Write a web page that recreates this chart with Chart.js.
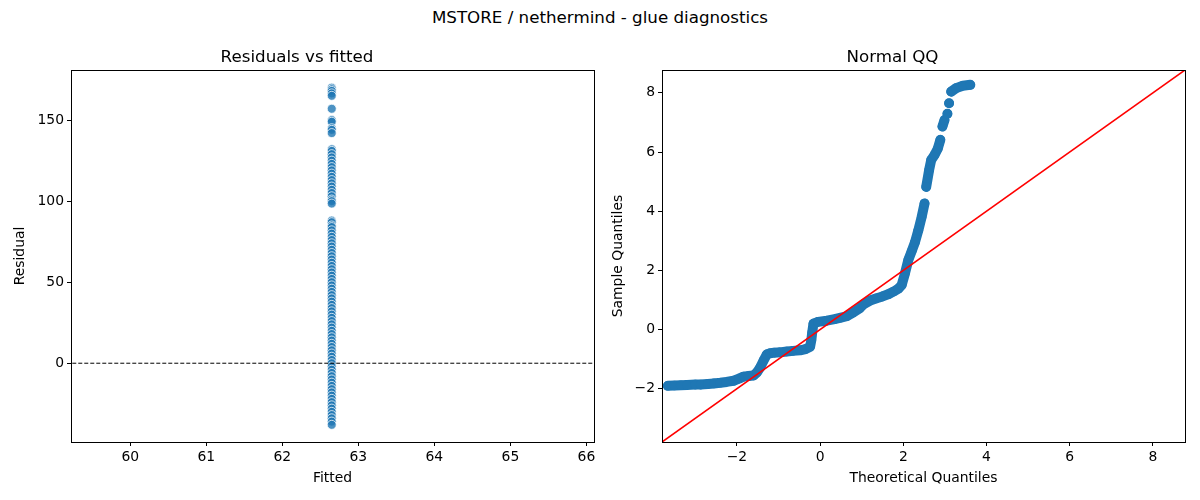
<!DOCTYPE html>
<html>
<head>
<meta charset="utf-8">
<script src="https://cdn.jsdelivr.net/npm/chart.js@4.4.1/dist/chart.umd.min.js"></script>
<style>
  body { margin: 0; background: #fff; font-family: "DejaVu Sans", sans-serif; }
  #wrap { position: relative; width: 1200px; height: 500px; }
  #suptitle { position: absolute; top: 7px; left: 0; width: 1200px; text-align: center; font-size: 16.7px; color: #000; }
  .box { position: absolute; top: 30px; width: 600px; height: 470px; }
</style>
</head>
<body>
<div id="wrap">
  <div id="suptitle">MSTORE / nethermind - glue diagnostics</div>
  <div class="box" style="left:0"><canvas id="residChart"></canvas></div>
  <div class="box" style="left:600px"><canvas id="qqChart"></canvas></div>
</div>
<script>
// Residuals vs fitted: every observation has the same fitted value
const fittedValue = 62.65;
const residuals = [170, 169, 168, 166.5, 165, 157, 150, 149, 145, 144, 142,
  132, 131, 129, 127, 125, 123, 121, 119, 117, 115, 113, 111, 109, 107, 105, 103, 101, 100, 98.5,
  88, 87, 85, 84, 82, 80, 78, 76, 74, 72, 70, 68, 66, 64, 62, 60, 58, 56, 54, 52, 50, 48, 46, 44,
  42, 40, 38, 36, 34, 32, 30, 28, 26, 24, 22, 20, 18, 16, 14, 12, 10, 8, 6, 4, 2, 0,
  -2, -4, -6, -8, -10, -12, -14, -16, -18, -20, -22, -24, -26, -28, -30, -32, -34, -36, -38];
const residXTicks = [60, 61, 62, 63, 64, 65, 66];
const residYTicks = [0, 50, 100, 150];

// Normal QQ (null breaks the band where the sample quantiles jump)
const qqTheoretical = [-3.66, -3.5, -3.35, -3.2, -3.0, -2.87, -2.7, -2.55, -2.4, -2.25, -2.08, -1.95,
  -1.84, -1.72, -1.6, -1.52, -1.44, -1.36, -1.28, -1.2, -1.1, -0.96, -0.8, -0.65, -0.48, -0.35,
  -0.24, -0.21, -0.19, -0.16, -0.05, 0.16, 0.35, 0.5, 0.64, 0.8, 0.95, 1.04, 1.2, 1.36, 1.5, 1.65,
  1.76, 1.88, 1.96, 2.04, 2.12, 2.2, 2.28, 2.36, 2.44, 2.51, null,
  2.55, 2.62, 2.67, 2.75, 2.83, 2.89, null,
  2.94, 2.99, null, 3.06, null, 3.10, null, 3.15, 3.27, 3.43, 3.61];
const qqSample = [-1.90, -1.89, -1.88, -1.87, -1.86, -1.86, -1.84, -1.82, -1.80, -1.77, -1.73, -1.66,
  -1.59, -1.57, -1.55, -1.45, -1.28, -1.05, -0.84, -0.80, -0.78, -0.77, -0.74, -0.72, -0.70, -0.66,
  -0.58, -0.35, -0.1, 0.2, 0.26, 0.30, 0.35, 0.40, 0.45, 0.58, 0.72, 0.85, 0.98, 1.06, 1.12, 1.2,
  1.28, 1.38, 1.50, 1.9, 2.35, 2.65, 2.95, 3.35, 3.8, 4.26, null,
  4.82, 5.39, 5.73, 5.90, 6.12, 6.41, null,
  6.86, 7.08, null, 7.29, null, 7.65, null, 8.04, 8.16, 8.24, 8.27];
const qqLimits = [-3.8, 8.77];
const qqTicks = [-2, 0, 2, 4, 6, 8];

const blue = '#1f77b4';
const font = { family: '"DejaVu Sans", sans-serif', size: 13.9 };

// matplotlib style frame around the plot area
const framePlugin = {
  id: 'frame',
  afterDraw(chart) {
    const a = chart.chartArea;
    const c = chart.ctx;
    c.save();
    c.strokeStyle = '#000';
    c.lineWidth = 1;
    c.strokeRect(Math.round(a.left) + 0.5, Math.round(a.top) + 0.5,
      Math.round(a.right - a.left), Math.round(a.bottom - a.top));
    c.restore();
  }
};

function axis(min, max, ticks, label, size, fmt, titlePad) {
  return {
    type: 'linear', min: min, max: max,
    afterBuildTicks: s => { s.ticks = ticks.map(v => ({ value: v })); },
    afterFit: s => { if (s.isHorizontal()) s.height = size; else s.width = size; },
    border: { display: false },
    grid: { drawOnChartArea: false, drawTicks: true, tickLength: 4, color: '#000', lineWidth: 1 },
    ticks: { color: '#000', font: font, padding: 3, maxRotation: 0, autoSkip: false, callback: fmt },
    title: { display: true, text: label, color: '#000', font: font, padding: titlePad }
  };
}

function titleOpts(text) {
  return {
    display: true, text: text, color: '#000',
    font: { family: '"DejaVu Sans", sans-serif', size: 16.7, weight: 'normal' },
    padding: { top: 18, bottom: 2 }
  };
}

const minus = v => String(v).replace('-', '\u2212');

new Chart(document.getElementById('residChart'), {
  type: 'scatter',
  data: {
    datasets: [{
      // dashed zero line
      data: [{ x: residXTicks[0] - 1, y: 0 }, { x: residXTicks[residXTicks.length - 1] + 1, y: 0 }],
      showLine: true, borderColor: '#000', borderWidth: 1, borderDash: [4, 2], pointRadius: 0
    }, {
      data: residuals.map(r => ({ x: fittedValue, y: r })),
      backgroundColor: 'rgba(31,119,180,0.8)', borderColor: '#fff', borderWidth: 0.75,
      pointRadius: 4.5
    }]
  },
  options: {
    responsive: true, maintainAspectRatio: false, animation: false,
    layout: { padding: { left: 0, right: 6, top: 0, bottom: 0 } },
    plugins: { legend: { display: false }, tooltip: { enabled: false }, title: titleOpts('Residuals vs fitted') },
    scales: {
      x: axis(59.22, 66.1, residXTicks, 'Fitted', 58, v => v, { top: 2, bottom: 13 }),
      y: axis(-48.6, 180.9, residYTicks, 'Residual', 71, v => v, { top: 12, bottom: 4 })
    }
  },
  plugins: [framePlugin]
});

new Chart(document.getElementById('qqChart'), {
  type: 'scatter',
  data: {
    datasets: [{
      // 45 degree reference line
      data: [{ x: qqLimits[0], y: qqLimits[0] }, { x: qqLimits[1], y: qqLimits[1] }],
      showLine: true, borderColor: '#ff0000', borderWidth: 1.6, pointRadius: 0
    }, {
      data: qqTheoretical.map((t, i) => ({ x: t, y: qqSample[i] })),
      showLine: true, spanGaps: false,
      borderColor: blue, borderWidth: 10, borderCapStyle: 'round', borderJoinStyle: 'round',
      backgroundColor: blue, pointBorderWidth: 0, pointRadius: 4.8
    }]
  },
  options: {
    responsive: true, maintainAspectRatio: false, animation: false,
    layout: { padding: { left: 0, right: 15, top: 0, bottom: 0 } },
    plugins: { legend: { display: false }, tooltip: { enabled: false }, title: titleOpts('Normal QQ') },
    scales: {
      x: axis(qqLimits[0], qqLimits[1], qqTicks, 'Theoretical Quantiles', 58, minus, { top: 2, bottom: 13 }),
      y: axis(qqLimits[0], qqLimits[1], qqTicks, 'Sample Quantiles', 62, minus, { top: 10, bottom: 4 })
    }
  },
  plugins: [framePlugin]
});
</script>
</body>
</html>
